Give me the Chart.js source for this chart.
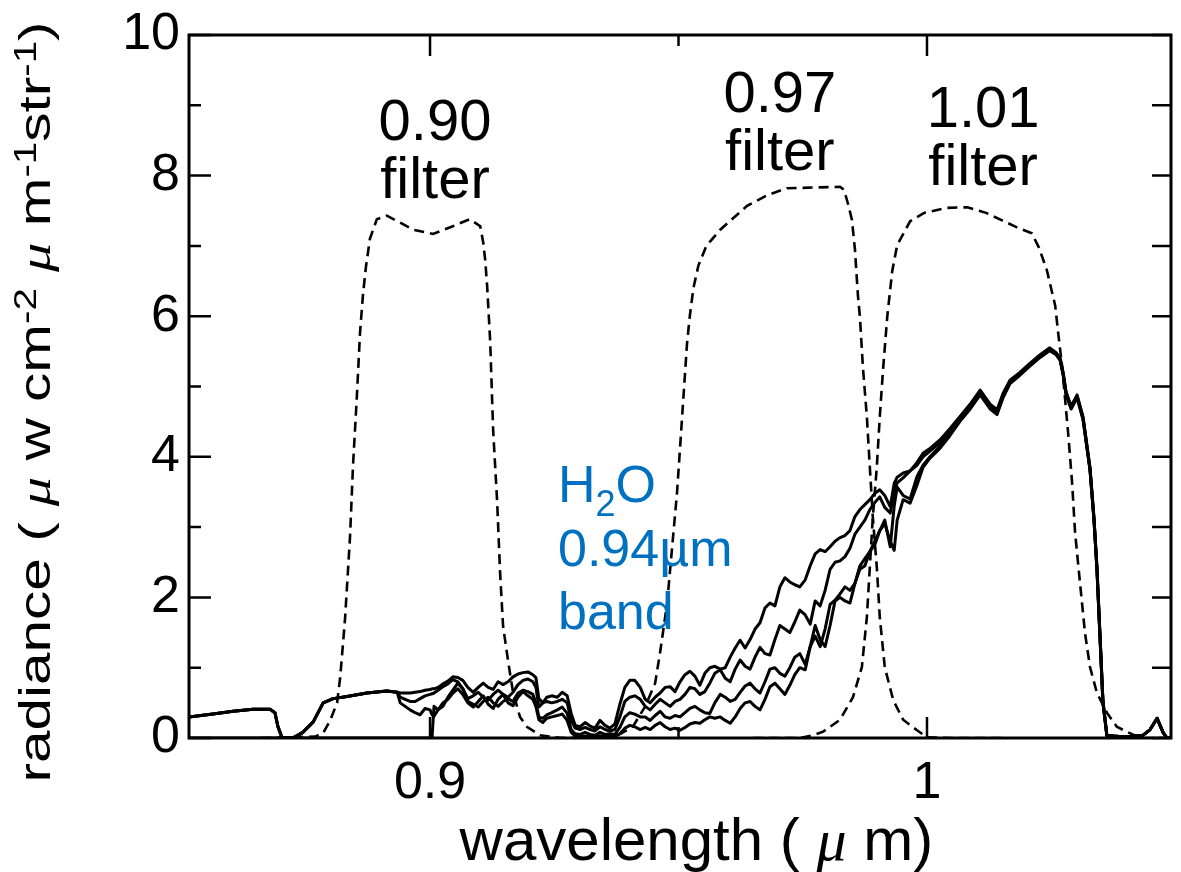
<!DOCTYPE html>
<html>
<head>
<meta charset="utf-8">
<script src="https://cdn.jsdelivr.net/npm/chart.js@4.4.1/dist/chart.umd.min.js"></script>
<style>
  html, body { margin: 0; padding: 0; background: #fff; }
  #wrap { width: 1181px; height: 872px; }
</style>
</head>
<body>
<div id="wrap"><canvas id="grafica"></canvas></div>
<script>
// wavelength grid (um) shared by the four radiance spectra
const wavelength = [
  0.8515,0.8563,0.8604,0.8644,0.8678,0.8688,0.8694,0.8702,0.8724,0.8744,0.8765,0.8785,0.8805,0.8833,0.8873,0.8913,0.8934,
  0.8940,0.8950,0.8960,0.8970,0.8980,0.8990,0.9000,0.9004,0.9008,0.9016,0.9026,0.9036,0.9046,0.9056,0.9066,0.9076,0.9087,0.9097,0.9107,0.9117,0.9127,0.9137,0.9147,0.9157,0.9167,0.9177,0.9187,0.9197,0.9207,0.9213,0.9219,
  0.9227,0.9235,0.9245,0.9256,0.9266,0.9276,0.9284,0.9292,0.9302,0.9312,0.9322,0.9332,0.9342,0.9352,0.9362,0.9372,0.9382,0.9392,0.9402,0.9412,0.9423,
  0.9433,0.9443,0.9453,0.9463,0.9473,0.9483,0.9493,0.9503,0.9513,0.9523,0.9533,0.9543,0.9553,0.9563,0.9573,0.9584,0.9594,0.9604,0.9614,0.9624,0.9634,0.9644,0.9654,0.9664,0.9674,0.9684,0.9694,0.9704,0.9714,0.9724,0.9734,0.9744,0.9755,0.9765,0.9775,0.9785,0.9795,0.9805,0.9815,0.9825,0.9835,0.9845,0.9855,0.9865,0.9875,0.9885,0.9895,0.9905,
  0.9915,0.9926,0.9934,0.9940,0.9952,0.9966,0.9980,0.9992,1.0006,1.0026,1.0046,1.0066,
  1.0087,1.0107,1.0117,1.0127,1.0141,1.0153,1.0167,1.0187,1.0207,1.0227,1.0247,1.0260,1.0268,1.0274,1.0280,1.0290,1.0302,1.0314,1.0328,1.0336,1.0342,1.0348,1.0354,1.0362,1.0388,1.0414,1.0435,1.0449,1.0463,1.0475,1.0483,1.0491
];

const radiance1 = [
  0.30,0.34,0.38,0.41,0.41,0.36,0.16,0.01,0.00,0.08,0.23,0.50,0.56,0.59,0.64,0.67,0.65,
  0.64,0.64,0.64,0.65,0.66,0.68,0.69,0.70,0.70,0.72,0.77,0.81,0.87,0.86,0.82,0.72,0.65,0.72,0.78,0.72,0.69,0.80,0.76,0.80,0.87,0.91,0.93,0.94,0.90,0.86,0.56,
  0.50,0.58,0.60,0.58,0.65,0.60,0.35,0.18,0.16,0.22,0.17,0.14,0.25,0.18,0.14,0.20,0.48,0.72,0.82,0.82,0.72,
  0.55,0.50,0.58,0.64,0.72,0.73,0.66,0.80,0.90,0.95,0.88,0.75,0.92,1.00,1.02,0.98,1.00,1.15,1.28,1.39,1.28,1.40,1.55,1.64,1.85,1.92,1.88,2.15,2.28,2.22,2.18,2.15,2.25,2.45,2.62,2.68,2.65,2.72,2.80,2.85,2.88,2.95,3.15,3.25,3.32,3.39,3.48,3.53,
  3.45,3.29,3.62,3.71,3.77,3.80,3.92,4.05,4.12,4.24,4.40,4.57,
  4.75,4.95,4.85,4.75,4.67,4.90,5.09,5.20,5.33,5.45,5.55,5.48,5.40,5.20,4.92,4.72,4.88,4.57,3.85,3.14,2.43,1.49,0.54,0.04,0.02,0.02,0.04,0.12,0.28,0.08,0.00,0.00
];
const radiance2 = [
  0.30,0.34,0.38,0.41,0.41,0.36,0.16,0.01,0.00,0.08,0.23,0.50,0.56,0.59,0.64,0.67,0.65,
  0.58,0.55,0.52,0.52,0.56,0.60,0.62,0.63,0.64,0.68,0.73,0.77,0.83,0.80,0.70,0.56,0.60,0.65,0.58,0.54,0.62,0.68,0.62,0.58,0.65,0.76,0.82,0.84,0.80,0.72,0.44,
  0.50,0.52,0.50,0.52,0.55,0.50,0.25,0.14,0.12,0.15,0.12,0.10,0.16,0.12,0.10,0.12,0.30,0.52,0.58,0.60,0.55,
  0.45,0.40,0.48,0.55,0.50,0.45,0.52,0.55,0.62,0.72,0.70,0.62,0.66,0.78,0.92,0.97,0.85,0.80,0.98,1.11,1.02,0.98,1.15,1.29,1.20,1.18,1.40,1.60,1.55,1.50,1.65,1.82,1.75,1.62,1.95,1.88,2.10,2.40,2.50,2.52,2.58,2.70,2.90,3.00,3.10,3.25,3.35,3.43,
  3.28,3.20,3.50,3.63,3.70,3.80,3.88,4.00,4.08,4.20,4.36,4.55,
  4.72,4.92,4.83,4.73,4.64,4.88,5.07,5.18,5.31,5.43,5.53,5.47,5.39,5.18,4.90,4.70,4.86,4.55,3.83,3.12,2.41,1.47,0.52,0.03,0.02,0.02,0.04,0.12,0.28,0.08,0.00,0.00
];
const radiance3 = [
  0.30,0.34,0.38,0.41,0.41,0.36,0.16,0.01,0.00,0.08,0.23,0.50,0.56,0.59,0.64,0.67,0.65,
  0.50,0.45,0.40,0.36,0.33,0.42,0.40,0.33,0.31,0.40,0.45,0.58,0.68,0.78,0.70,0.52,0.48,0.44,0.52,0.58,0.50,0.45,0.52,0.56,0.52,0.64,0.68,0.66,0.62,0.50,0.30,
  0.28,0.33,0.36,0.40,0.44,0.35,0.12,0.06,0.05,0.08,0.05,0.04,0.08,0.05,0.06,0.05,0.15,0.30,0.36,0.34,0.30,
  0.30,0.25,0.32,0.38,0.30,0.28,0.32,0.30,0.36,0.42,0.45,0.40,0.36,0.35,0.50,0.62,0.58,0.52,0.55,0.65,0.74,0.78,0.70,0.64,0.80,0.98,1.00,0.92,0.88,1.00,1.15,1.20,1.05,1.30,1.45,1.30,1.55,1.90,1.96,2.05,2.15,2.10,2.20,2.45,2.55,2.65,2.75,2.95,
  3.10,2.72,3.30,3.57,3.45,3.40,3.72,3.88,4.00,4.15,4.32,4.52,
  4.70,4.90,4.80,4.70,4.62,4.86,5.05,5.17,5.30,5.42,5.52,5.46,5.38,5.17,4.89,4.69,4.85,4.54,3.82,3.11,2.40,1.46,0.51,0.03,0.02,0.02,0.04,0.12,0.28,0.08,0.00,0.00
];
const radiance4 = [
  0,0,0,0,0,0,0,0,0,0,0,0,0,0,0,0,0,
  0,0,0,0,0,0,0,0,0.45,0.40,0.50,0.55,0.64,0.70,0.62,0.50,0.44,0.52,0.60,0.48,0.42,0.55,0.62,0.50,0.46,0.58,0.66,0.60,0.55,0.45,0.26,
  0.22,0.28,0.30,0.32,0.34,0.25,0.08,0.03,0.02,0.03,0.02,0.02,0.03,0.02,0.03,0.02,0.06,0.14,0.18,0.16,0.12,
  0.15,0.12,0.18,0.22,0.16,0.12,0.14,0.11,0.15,0.20,0.22,0.21,0.26,0.30,0.28,0.30,0.25,0.21,0.30,0.42,0.50,0.52,0.45,0.40,0.55,0.73,0.78,0.70,0.62,0.75,0.90,1.00,0.97,1.30,1.60,1.40,1.30,1.60,1.95,2.00,1.95,1.92,2.20,2.40,2.45,2.65,2.80,2.95,
  3.05,2.80,2.67,3.10,3.39,3.34,3.60,3.85,3.98,4.12,4.30,4.50,
  4.68,4.88,4.78,4.68,4.60,4.84,5.04,5.16,5.29,5.41,5.51,5.45,5.37,5.16,4.88,4.68,4.84,4.53,3.81,3.10,2.39,1.45,0.50,0.03,0.02,0.02,0.04,0.12,0.28,0.08,0.00,0.00
];

// filter transmission curves (drawn dashed, same y units)
const filterWl090 = [0.8660,0.8769,0.8785,0.8799,0.8813,0.8819,0.8825,0.8829,0.8839,0.8845,0.8853,0.8859,0.8865,0.8871,0.8879,0.8893,0.8913,0.8940,0.8966,0.9006,0.9046,0.9080,0.9101,0.9107,0.9111,0.9115,0.9121,0.9127,0.9135,0.9141,0.9147,0.9157,0.9167,0.9181,0.9195,0.9221,0.9262,0.9350];
const filter090 = [0,0.02,0.07,0.25,0.50,0.85,1.35,1.70,2.86,3.87,4.89,5.75,6.30,6.70,7.10,7.38,7.43,7.33,7.23,7.17,7.28,7.38,7.28,7.05,6.80,6.42,5.65,4.38,3.37,2.35,1.59,1.10,0.65,0.30,0.16,0.04,0,0];
const filterWl097 = [0.9250,0.9342,0.9372,0.9386,0.9408,0.9433,0.9453,0.9463,0.9477,0.9487,0.9497,0.9507,0.9517,0.9523,0.9530,0.9540,0.9556,0.9584,0.9638,0.9678,0.9718,0.9825,0.9833,0.9841,0.9849,0.9855,0.9861,0.9865,0.9871,0.9879,0.9885,0.9891,0.9899,0.9905,0.9915,0.9932,0.9952,0.9980,1.0000,1.0046,1.0150];
const filter097 = [0,0,0.03,0.07,0.16,0.45,0.78,1.22,1.91,2.70,3.49,4.54,5.60,6.02,6.40,6.72,7.00,7.23,7.57,7.72,7.82,7.84,7.80,7.60,7.37,6.95,6.30,5.99,5.28,4.57,3.85,3.14,2.43,1.72,1.01,0.54,0.26,0.11,0.01,0,0];
const filterWl101 = [0.9650,0.9745,0.9771,0.9791,0.9825,0.9851,0.9869,0.9879,0.9885,0.9891,0.9899,0.9905,0.9912,0.9920,0.9930,0.9940,0.9966,0.9994,1.0040,1.0081,1.0119,1.0149,1.0179,1.0211,1.0225,1.0241,1.0258,1.0264,1.0272,1.0278,1.0284,1.0292,1.0298,1.0308,1.0318,1.0328,1.0342,1.0362,1.0382,1.0402,1.0429,1.0491];
const filter101 = [0,0,0.04,0.09,0.26,0.58,1.01,1.72,2.43,3.14,3.85,4.57,5.28,5.99,6.64,7.01,7.35,7.47,7.54,7.55,7.47,7.37,7.27,7.18,6.98,6.66,6.15,5.76,5.28,4.81,4.34,3.63,2.92,2.20,1.49,1.01,0.64,0.36,0.16,0.09,0,0];

const xTicks = [0.9, 0.95, 1.0];
const xTickLabels = ['0.9', '', '1'];
const yTicks = [0, 1, 2, 3, 4, 5, 6, 7, 8, 9, 10];
const yTickLabels = ['0', '', '2', '', '4', '', '6', '', '8', '', '10'];

const sans = '"Liberation Sans", Arial, sans-serif';
const serif = '"Liberation Serif", "Times New Roman", serif';

function pts(xs, ys) {
  return xs.map((x, i) => ({ x: x, y: ys[i] }));
}

function drawParts(ctx, parts, x, y, align) {
  let total = 0;
  parts.forEach(p => { ctx.font = p.font; total += ctx.measureText(p.text).width; });
  let cx = align === 'center' ? x - total / 2 : x;
  ctx.textAlign = 'left';
  ctx.textBaseline = 'alphabetic';
  parts.forEach(p => {
    ctx.font = p.font;
    ctx.fillText(p.text, cx, y + (p.dy || 0));
    cx += ctx.measureText(p.text).width;
  });
}

const frameAndText = {
  id: 'frameAndText',
  afterDatasetsDraw(chart) {
    const ctx = chart.ctx;
    const a = chart.chartArea;
    const x = chart.scales.x, y = chart.scales.y;
    ctx.save();
    // inward ticks on all four sides
    ctx.strokeStyle = '#000';
    ctx.lineWidth = 2.5;
    ctx.beginPath();
    yTicks.forEach(v => {
      const py = y.getPixelForValue(v);
      ctx.moveTo(a.left, py); ctx.lineTo(a.left + (v % 2 === 0 ? 22 : 12), py);
      ctx.moveTo(a.right, py); ctx.lineTo(a.right - 19, py);
    });
    xTicks.forEach((v, i) => {
      const px = x.getPixelForValue(v);
      const len = xTickLabels[i] ? 21 : 11;
      ctx.moveTo(px, a.bottom); ctx.lineTo(px, a.bottom - len);
      ctx.moveTo(px, a.top); ctx.lineTo(px, a.top + len);
    });
    ctx.stroke();
    ctx.lineWidth = 3;
    ctx.strokeRect(a.left, a.top, a.right - a.left, a.bottom - a.top);

    // filter labels
    ctx.fillStyle = '#000';
    const f58 = '58px ' + sans;
    [[0.9010, '0.90', 8.51, 7.68], [0.9704, '0.97', 8.90, 8.08], [1.0113, '1.01', 8.69, 7.87]].forEach(l => {
      const px = x.getPixelForValue(l[0]);
      drawParts(ctx, [{ text: l[1], font: f58 }], px, y.getPixelForValue(l[2]), 'center');
      drawParts(ctx, [{ text: 'filter', font: f58 }], px, y.getPixelForValue(l[3]), 'center');
    });

    // water vapour band note
    ctx.fillStyle = '#0070C0';
    const bx = x.getPixelForValue(0.92575);
    const f52 = '52px ' + sans;
    drawParts(ctx, [{ text: 'H', font: f52 }, { text: '2', font: '36px ' + sans, dy: 14 }, { text: 'O', font: f52 }], bx, y.getPixelForValue(3.36), 'left');
    drawParts(ctx, [{ text: '0.94\u00b5m', font: f52 }], bx, y.getPixelForValue(2.45), 'left');
    drawParts(ctx, [{ text: 'band', font: f52 }], bx, y.getPixelForValue(1.55), 'left');

    // axis titles
    ctx.fillStyle = '#000';
    drawParts(ctx, [
      { text: 'wavelength ( ', font: '60px ' + sans },
      { text: '\u03bc', font: 'italic 60px ' + serif },
      { text: ' m)', font: '60px ' + sans }
    ], x.getPixelForValue(0.9536), 860, 'center');

    ctx.translate(50, 402);
    ctx.rotate(-Math.PI / 2);
    ctx.scale(1.3, 1);
    const f45 = '45px ' + sans, mu = 'italic 45px ' + serif, sup = '31px ' + sans;
    drawParts(ctx, [
      { text: 'radiance ( ', font: f45 },
      { text: '\u03bc', font: mu },
      { text: ' w cm', font: f45 },
      { text: '-2', font: sup, dy: -14 },
      { text: ' ', font: f45 },
      { text: '\u03bc', font: mu },
      { text: ' m', font: f45 },
      { text: '-1', font: sup, dy: -14 },
      { text: 'str', font: f45 },
      { text: '-1', font: sup, dy: -14 },
      { text: ')', font: f45 }
    ], 0, 0, 'center');
    ctx.restore();
  }
};

const solid = { borderColor: '#000', borderWidth: 3, pointRadius: 0, tension: 0, fill: false, borderJoinStyle: 'round' };
const dashed = { borderColor: '#000', borderWidth: 2.6, pointRadius: 0, tension: 0, fill: false, borderDash: [10, 6] };

new Chart(document.getElementById('grafica').getContext('2d'), {
  type: 'line',
  data: {
    datasets: [
      Object.assign({ label: 'filter 0.90', data: pts(filterWl090, filter090) }, dashed),
      Object.assign({ label: 'filter 0.97', data: pts(filterWl097, filter097) }, dashed),
      Object.assign({ label: 'filter 1.01', data: pts(filterWl101, filter101) }, dashed),
      Object.assign({ label: 'radiance 1', data: pts(wavelength, radiance1) }, solid),
      Object.assign({ label: 'radiance 2', data: pts(wavelength, radiance2) }, solid),
      Object.assign({ label: 'radiance 3', data: pts(wavelength, radiance3) }, solid),
      Object.assign({ label: 'radiance 4', data: pts(wavelength, radiance4) }, solid)
    ]
  },
  options: {
    responsive: true,
    maintainAspectRatio: false,
    animation: false,
    layout: { padding: { left: 0, right: 10, top: 35, bottom: 0 } },
    plugins: { legend: { display: false }, tooltip: { enabled: false } },
    scales: {
      x: {
        type: 'linear',
        min: 0.8515,
        max: 1.0491,
        afterBuildTicks: s => { s.ticks = xTicks.map(v => ({ value: v })); },
        afterFit: s => { s.height = 134; s.paddingLeft = 0; s.paddingRight = 0; },
        ticks: {
          autoSkip: false,
          maxRotation: 0,
          padding: 14,
          color: '#000',
          font: { family: sans, size: 52 },
          callback: (v, i) => xTickLabels[i]
        },
        grid: { display: false, drawTicks: false },
        border: { display: false }
      },
      y: {
        min: 0,
        max: 10,
        afterBuildTicks: s => { s.ticks = yTicks.map(v => ({ value: v })); },
        afterFit: s => { s.width = 189; s.paddingTop = 0; s.paddingBottom = 0; },
        ticks: {
          autoSkip: false,
          padding: 9,
          color: '#000',
          font: { family: sans, size: 52 },
          callback: (v, i) => yTickLabels[i]
        },
        grid: { display: false, drawTicks: false },
        border: { display: false }
      }
    }
  },
  plugins: [frameAndText]
});
</script>
</body>
</html>
